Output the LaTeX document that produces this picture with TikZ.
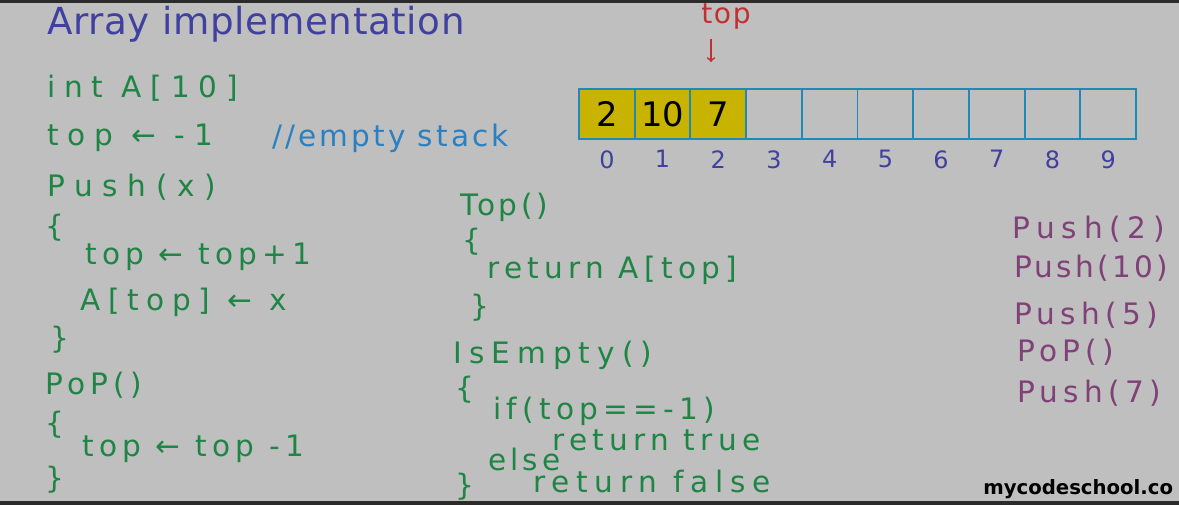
\documentclass[tikz,border=0pt]{standalone}
\usepackage{fontspec}
\setmainfont{DejaVu Sans}
\newfontfamily\hand[LetterSpace=18]{DejaVu Sans}
\usetikzlibrary{positioning}

\definecolor{board}{HTML}{BFBFBF}
\definecolor{edge}{HTML}{2B2B2B}
\definecolor{ink}{HTML}{4040A0}
\definecolor{code}{HTML}{1F8545}
\definecolor{note}{HTML}{2A80C0}
\definecolor{cellline}{HTML}{1F8AB5}
\definecolor{cellfill}{HTML}{C8B400}
\definecolor{pointer}{HTML}{C03030}
\definecolor{calls}{HTML}{804078}

\tikzset{
  txt/.style={anchor=west, inner sep=0pt, font=\hand\fontsize{21}{24}\selectfont},
  spread/.style={font=\hand\fontsize{21}{24}\selectfont\addfontfeature{LetterSpace=#1}},
  codeline/.style={txt, text=code},
  callline/.style={txt, text=calls},
  cell/.style={draw=cellline, line width=1.4pt, minimum width=1.3925cm,
    minimum height=1.25cm, inner sep=0pt},
  val/.style={font=\fontsize{24}{26}\selectfont, inner sep=0pt},
  idx/.style={font=\fontsize{17}{19}\selectfont, text=ink, inner sep=0pt}
}

\begin{document}
\begin{tikzpicture}[x=0.025cm, y=-0.025cm]
\useasboundingbox (0,0) rectangle (1179,505);
\fill[board] (0,0) rectangle (1179,505);
\fill[edge] (0,0) rectangle (1179,3);
\fill[edge] (0,501) rectangle (1179,505);

% title
\node[txt, text=ink, font=\hand\fontsize{26.5}{30}\selectfont\addfontfeature{LetterSpace=1.5}] (title) at (47,24) {Array implementation};

% left column
\node[codeline, spread=30] (decl) at (47,88) {int A[10]};
\node[codeline, spread=30] (init) at (47,138) {top ← -1};
\node[txt, text=note, spread=10.5] (cmt) at (272,138) {//empty stack};
\node[codeline, spread=33] (push) at (47,187) {Push(x)};
\node[codeline] (pusho) at (45,228) {\{};
\node[codeline] (pusha) at (85,257) {top ← top+1};
\node[codeline, spread=26] (pushb) at (80,302) {A[top] ← x};
\node[codeline] (pushc) at (50,340) {\}};
\node[codeline] (pop) at (45,385) {PoP()};
\node[codeline] (popo) at (45,425) {\{};
\node[codeline] (popa) at (82,449) {top ← top -1};
\node[codeline] (popc) at (45,480) {\}};

% middle column
\node[codeline, spread=12.5] (topf) at (460,207) {Top()};
\node[codeline] (topo) at (462,242) {\{};
\node[codeline] (topa) at (487,270) {return A[top]};
\node[codeline] (topc) at (470,308) {\}};
\node[codeline, spread=24] (empt) at (453,355) {IsEmpty()};
\node[codeline] (empo) at (455,390) {\{};
\node[codeline] (empa) at (493,411) {if(top==-1)};
\node[codeline] (empb) at (552,440) {return true};
\node[codeline, spread=14] (empc) at (488,459) {else};
\node[codeline, spread=23] (empd) at (533,481) {return false};
\node[codeline] (empe) at (455,487) {\}};

% array
\foreach \i/\v in {0/2,1/10,2/7,3/,4/,5/,6/,7/,8/,9/}{
  \ifnum\i<3 \def\cf{cellfill}\else\def\cf{board}\fi
  \node[cell, fill=\cf] (c\i) at ({606.85+55.7*\i},114) {};
  \node[val] (v\i) at (c\i) {\v};
  \node[idx, below=0.25cm of c\i] (n\i) {\i};
}

% top marker
\node[txt, anchor=center, text=pointer, font=\hand\fontsize{20}{22}\selectfont\addfontfeature{LetterSpace=6}] (toplbl) at (726,17) {top};
\coordinate (toptip) at (711,62);
\draw[->, pointer, line width=1.2pt, shorten <=6pt] (toplbl.south -| toptip) -- (toptip);

% calls
\node[callline, spread=23] (k1) at (1012,229) {Push(2)};
\node[callline, spread=11] (k2) at (1014,268) {Push(10)};
\node[callline] (k3) at (1014,315) {Push(5)};
\node[callline] (k4) at (1017,352) {PoP()};
\node[callline] (k5) at (1017,393) {Push(7)};

\node[anchor=west, inner sep=0pt, font=\bfseries\fontsize{14}{18}\selectfont] (site) at (983,489) {mycodeschool.co};
\end{tikzpicture}
\end{document}
